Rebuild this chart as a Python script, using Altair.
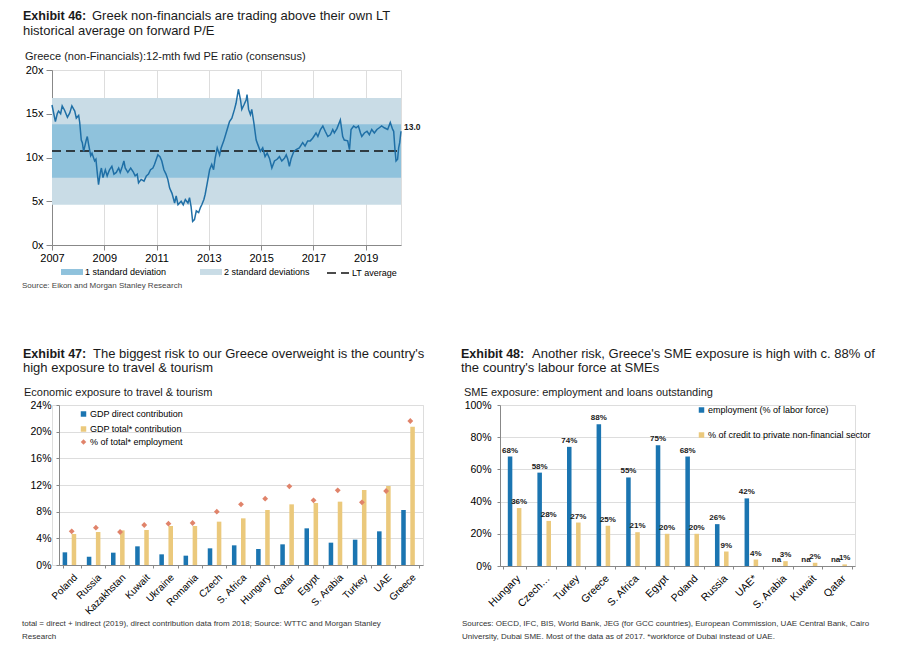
import altair as alt
import pandas as pd

FONT = "Liberation Sans"
INK = "#1a1a1a"

# ---------------- Exhibit 46 data ----------------
years46 = [2007.00, 2007.13, 2007.20, 2007.25, 2007.33, 2007.39, 2007.48, 2007.59, 2007.68, 2007.76,
           2007.87, 2007.93, 2008.02, 2008.06, 2008.12, 2008.16, 2008.21, 2008.31, 2008.35, 2008.40,
           2008.48, 2008.53, 2008.63, 2008.68, 2008.73, 2008.78, 2008.85, 2008.89, 2008.95, 2009.04,
           2009.11, 2009.20, 2009.29, 2009.37, 2009.46, 2009.55, 2009.61, 2009.69, 2009.75, 2009.80,
           2009.90, 2010.01, 2010.10, 2010.18, 2010.26, 2010.31, 2010.41, 2010.52, 2010.61, 2010.69,
           2010.77, 2010.86, 2010.92, 2011.05, 2011.13, 2011.20, 2011.28, 2011.36, 2011.43, 2011.50,
           2011.59, 2011.69, 2011.75, 2011.82, 2011.94, 2012.02, 2012.10, 2012.20, 2012.26, 2012.32,
           2012.38, 2012.45, 2012.52, 2012.61, 2012.68, 2012.73, 2012.81, 2012.86, 2012.94, 2013.03,
           2013.11, 2013.18, 2013.24, 2013.32, 2013.41, 2013.47, 2013.57, 2013.70, 2013.79, 2013.88,
           2013.98, 2014.04, 2014.13, 2014.21, 2014.26, 2014.34, 2014.43, 2014.46, 2014.52, 2014.59,
           2014.64, 2014.72, 2014.81, 2014.87, 2014.97, 2015.06, 2015.15, 2015.23, 2015.32, 2015.41,
           2015.51, 2015.61, 2015.70, 2015.79, 2015.89, 2015.96, 2016.02, 2016.08, 2016.15, 2016.25,
           2016.34, 2016.46, 2016.59, 2016.68, 2016.78, 2016.88, 2016.97, 2017.10, 2017.17, 2017.27,
           2017.36, 2017.45, 2017.55, 2017.65, 2017.74, 2017.80, 2017.90, 2018.03, 2018.12, 2018.18,
           2018.31, 2018.38, 2018.44, 2018.54, 2018.63, 2018.72, 2018.80, 2018.85, 2018.95, 2019.05,
           2019.14, 2019.23, 2019.33, 2019.43, 2019.52, 2019.61, 2019.71, 2019.84, 2019.94, 2020.03,
           2020.07, 2020.12, 2020.16, 2020.22, 2020.26, 2020.30, 2020.35]
pe46 = [16.0, 14.1, 15.0, 15.3, 15.0, 15.9, 15.4, 14.6, 15.1, 15.9,
        15.3, 14.5, 14.8, 14.0, 12.0, 11.7, 10.7, 12.0, 12.4, 11.5,
        10.2, 10.5, 9.6, 9.8, 8.3, 6.9, 8.3, 8.8, 7.7, 8.6,
        7.9, 8.6, 9.0, 8.1, 8.3, 8.8, 8.3, 9.0, 9.6, 8.8,
        8.3, 8.8, 8.4, 7.9, 8.1, 7.1, 7.5, 7.3, 7.9, 8.1,
        8.6, 8.8, 9.2, 10.3, 10.1, 9.6, 8.6, 8.1, 7.5, 6.5,
        5.9, 4.8, 5.6, 4.6, 5.0, 4.6, 5.2, 4.8, 5.4, 4.4,
        2.7, 2.9, 3.9, 3.7, 4.3, 4.6, 5.2, 5.8, 7.1, 8.6,
        9.2, 8.6, 9.9, 11.1, 10.3, 11.1, 11.9, 13.2, 14.1, 14.5,
        15.5, 16.2, 17.8, 16.6, 15.5, 16.0, 16.6, 17.2, 15.5, 14.9,
        15.5, 14.0, 12.0, 11.5, 10.7, 11.1, 10.1, 10.5, 9.9, 8.8,
        9.6, 9.8, 10.1, 9.6, 9.9, 10.3, 9.8, 9.0, 9.9, 10.7,
        10.9, 11.1, 11.7, 11.3, 11.9, 11.9, 12.2, 12.8, 12.4, 13.2,
        13.6, 13.0, 12.4, 12.6, 13.2, 12.8, 13.3, 14.3, 12.4, 12.0,
        11.9, 10.9, 13.2, 13.6, 13.4, 13.6, 12.8, 12.4, 12.8, 13.0,
        12.6, 13.2, 12.8, 13.2, 13.4, 13.6, 13.4, 13.2, 14.0, 13.2,
        13.0, 10.9, 9.6, 9.8, 11.1, 11.7, 13.0]
lt_avg46 = 10.75
band_names46 = ["2 standard deviations", "1 standard deviation"]
band_lo46 = [4.6, 7.7]
band_hi46 = [16.8, 13.8]
year_ticks46 = [2007, 2009, 2011, 2013, 2015, 2017, 2019]
pe_ticks46 = [0, 5, 10, 15, 20]

T46 = ["Exhibit 46:", "Greek non-financials are trading above their own LT",
       "historical average on forward P/E"]
SUB46 = "Greece (non-Financials):12-mth fwd PE ratio (consensus)"
SRC46 = "Source: Eikon and Morgan Stanley Research"

# ---------------- Exhibit 47 data ----------------
countries47 = ["Poland", "Russia", "Kazakhstan", "Kuwait", "Ukraine", "Romania", "Czech",
               "S. Africa", "Hungary", "Qatar", "Egypt", "S. Arabia", "Turkey", "UAE", "Greece"]
direct47 = [1.9, 1.25, 1.85, 2.8, 1.6, 1.4, 2.5, 2.95, 2.4, 3.1, 5.5, 3.35, 3.8, 5.05, 8.25]
total47 = [4.65, 4.95, 5.2, 5.25, 5.85, 5.85, 6.5, 7.0, 8.25, 9.1, 9.3, 9.5, 11.25, 11.85, 20.75]
employ47 = [5.05, 5.6, 4.95, 6.0, 6.2, 6.3, 8.0, 9.1, 9.95, 11.8, 9.7, 11.2, 9.4, 11.1, 21.6]
series47 = ["GDP direct contribution", "GDP total* contribution", "% of total* employment"]
ticks47 = [0, 4, 8, 12, 16, 20, 24]

T47 = ["Exhibit 47:", "The biggest risk to our Greece overweight is the country's",
       "high exposure to travel & tourism"]
SUB47 = "Economic exposure to travel & tourism"
FOOT47 = ["total = direct + indirect (2019), direct contribution data from 2018; Source: WTTC and Morgan Stanley",
          "Research"]

# ---------------- Exhibit 48 data ----------------
countries48 = ["Hungary", "Czech Republic", "Turkey", "Greece", "S. Africa", "Egypt", "Poland",
               "Russia", "UAE*", "S. Arabia", "Kuwait", "Qatar"]
employ48 = [68, 58, 74, 88, 55, 75, 68, 26, 42, None, None, None]
credit48 = [36, 28, 27, 25, 21, 20, 20, 9, 4, 3, 2, 1]
series48 = ["employment (% of labor force)", "% of credit to private non-financial sector"]
ticks48 = [0, 20, 40, 60, 80, 100]

T48 = ["Exhibit 48:", "Another risk, Greece's SME exposure is high with c. 88% of",
       "the country's labour force at SMEs"]
SUB48 = "SME exposure: employment and loans outstanding"
FOOT48 = ["Sources: OECD, IFC, BIS, World Bank, JEG (for GCC countries), European Commission, UAE Central Bank, Cairo",
          "University, Dubai SME. Most of the data as of 2017. *workforce of Dubai instead of UAE."]

BLUE = "#1b75b1"
YELLOW = "#ebc97c"
ORANGE = "#e0836a"
LINE = "#1f6fa6"
BAND1 = "#8fc2dc"
BAND2 = "#c9dce6"


def txt(s, x, y, size, weight="normal", color=INK):
    return alt.Chart(pd.DataFrame({"t": [s]})).mark_text(
        align="left", baseline="alphabetic", fontSize=size, fontWeight=weight,
        color=color, font=FONT
    ).encode(text="t:N", x=alt.value(x), y=alt.value(y))


def header(titles, sub, bx, rx, y1, y2, sx, sy):
    return [
        txt(titles[0], bx, y1, 12.5, "bold"),
        txt(titles[1], rx, y1, 13),
        txt(titles[2], bx, y2, 13),
        txt(sub, sx, sy, 11),
    ]


# ---------------- Chart 1 ----------------
df46 = pd.DataFrame({"year": years46, "pe": pe46})
x0, x1 = years46[0], years46[-1]
bands46 = pd.DataFrame({"band": band_names46, "lo": band_lo46, "hi": band_hi46,
                        "x0": [x0, x0], "x1": [x1, x1]})
avg46 = pd.DataFrame({"x0": [x0], "x1": [x1], "avg": [lt_avg46], "name": ["LT average"]})
end46 = pd.DataFrame({"year": [x1], "pe": [pe46[-1]], "lab": [f"{pe46[-1]:.1f}"]})

xs46 = alt.Scale(domain=[x0, x1], nice=False, zero=False)
ys46 = alt.Scale(domain=[0, 20], nice=False)
xax46 = alt.Axis(values=year_ticks46, format="d", title=None, labelFontSize=11,
                 tickSize=5, labelPadding=2, labelFlush=False, labelOverlap=False)
yax46 = alt.Axis(values=pe_ticks46, labelExpr="datum.value + 'x'", title=None,
                 labelFontSize=11, tickSize=6, labelPadding=3, labelOverlap=False)

bands_layer = alt.Chart(bands46).mark_rect().encode(
    x=alt.X("x0:Q", scale=xs46, axis=xax46, title=None),
    x2="x1:Q",
    y=alt.Y("lo:Q", scale=ys46, axis=yax46, title=None),
    y2="hi:Q",
    fill=alt.Fill("band:N",
                  scale=alt.Scale(domain=["1 standard deviation", "2 standard deviations"],
                                  range=[BAND1, BAND2]),
                  legend=alt.Legend(orient="none", legendX=9, legendY=191, direction="horizontal",
                                    title=None, symbolType="M-1,-0.27L1,-0.27L1,0.27L-1,0.27Z",
                                    symbolSize=484, symbolStrokeWidth=0, labelFontSize=9,
                                    labelOffset=2, columnPadding=33, labelFont=FONT)),
)
rule_layer = alt.Chart(avg46).mark_rule(strokeWidth=1.6, color="#111").encode(
    x=alt.X("x0:Q", axis=xax46, title=None),
    x2="x1:Q",
    y=alt.Y("avg:Q", axis=yax46, title=None),
    strokeDash=alt.StrokeDash("name:N", scale=alt.Scale(domain=["LT average"], range=[[9, 5]]),
                              legend=alt.Legend(orient="none", legendX=274, legendY=191,
                                                title=None, symbolType="stroke", symbolSize=484,
                                                symbolStrokeColor="#111", symbolStrokeWidth=1.6,
                                                labelFontSize=9, labelOffset=2, labelFont=FONT)),
)
line_layer = alt.Chart(df46).mark_line(color=LINE, strokeWidth=1.5).encode(
    x=alt.X("year:Q", axis=xax46, title=None), y=alt.Y("pe:Q", axis=yax46, title=None))
end_layer = alt.Chart(end46).mark_text(align="left", dx=3, dy=-4, fontSize=8.5, fontWeight="bold",
                                       color=INK, font=FONT).encode(
    x=alt.X("year:Q", axis=xax46, title=None), y=alt.Y("pe:Q", axis=yax46, title=None),
    text="lab:N")

chart1 = alt.layer(
    bands_layer, rule_layer, line_layer, end_layer,
    *header(T46, SUB46, -29, 40, -50, -35.5, -27, -10.5),
    txt(SRC46, -30, 218, 8, color="#444"),
).properties(width=349, height=175)

# ---------------- Chart 2 (view starts 7px left of its axis) ----------------
SHIFT = 7
long47 = pd.DataFrame({
    "country": countries47 * 2,
    "series": [series47[0]] * len(countries47) + [series47[1]] * len(countries47),
    "value": direct47 + total47,
})
emp47 = pd.DataFrame({"country": countries47, "value": employ47,
                      "series": [series47[2]] * len(countries47)})

xax47 = alt.Axis(labelAngle=-45, labelFontSize=10, ticks=True, tickBand="extent", tickSize=3,
                 labelPadding=4, title=None, labelOverlap=False)
yax47 = alt.Axis(values=ticks47, labelExpr="datum.value + '%'", labelFontSize=10.5,
                 tickSize=3, labelPadding=5, title=None, labelOverlap=False, offset=-SHIFT)
x47 = alt.X("country:N", sort=countries47, title=None,
            scale=alt.Scale(paddingInner=0.25, paddingOuter=0.15, range=[SHIFT, SHIFT + 364]),
            axis=xax47)
bars47 = alt.Chart(long47).mark_bar().encode(
    x=x47,
    xOffset=alt.XOffset("series:N", sort=series47[:2]),
    y=alt.Y("value:Q", title=None, scale=alt.Scale(domain=[0, 24], nice=False), axis=yax47),
    color=alt.Color("series:N", scale=alt.Scale(domain=series47[:2], range=[BLUE, YELLOW]),
                    legend=alt.Legend(orient="none", legendX=20 + SHIFT, legendY=4.5, title=None,
                                      symbolType="square", symbolSize=30, labelFontSize=9,
                                      rowPadding=5, labelOffset=2, labelFont=FONT)),
)
pts47 = alt.Chart(emp47).mark_point(filled=True, opacity=1, size=34, color=ORANGE).encode(
    x=x47,
    y=alt.Y("value:Q", title=None, axis=yax47),
    shape=alt.Shape("series:N", scale=alt.Scale(domain=[series47[2]], range=["diamond"]),
                    legend=alt.Legend(orient="none", legendX=20 + SHIFT, legendY=32.5,
                                      title=None, symbolSize=30, symbolFillColor=ORANGE,
                                      symbolStrokeColor=ORANGE, labelFontSize=9,
                                      labelOffset=2, labelFont=FONT)),
)
chart2 = alt.layer(
    bars47, pts47,
    *header(T47, SUB47, -36 + SHIFT, 34 + SHIFT, -47, -33, -35 + SHIFT, -9),
    txt(FOOT47[0], -37 + SHIFT, 221, 8, color="#333"),
    txt(FOOT47[1], -37 + SHIFT, 234, 8, color="#333"),
).properties(width=364 + SHIFT, height=160)

# ---------------- Chart 3 ----------------
rows48 = []
for c, e, k in zip(countries48, employ48, credit48):
    rows48.append({"country": c, "series": series48[0], "value": e,
                   "ly": e if e is not None else 0,
                   "lab": f"{e}%" if e is not None else "na"})
    rows48.append({"country": c, "series": series48[1], "value": k, "ly": k, "lab": f"{k}%"})
long48 = pd.DataFrame(rows48)

xax48 = alt.Axis(labelAngle=-45, labelFontSize=10.5, ticks=True, tickBand="extent", tickSize=3,
                 labelPadding=4, title=None, labelOverlap=False,
                 labelExpr="datum.label == 'Czech Republic' ? 'Czech\u2026' : datum.label")
yax48 = alt.Axis(values=ticks48, labelExpr="datum.value + '%'", labelFontSize=10.5,
                 tickSize=3, labelPadding=6, title=None, labelOverlap=False)
x48 = alt.X("country:N", sort=countries48, title=None,
            scale=alt.Scale(paddingInner=0.225, paddingOuter=0.11), axis=xax48)
xo48 = alt.XOffset("series:N", sort=series48)
bars48 = alt.Chart(long48).mark_bar().encode(
    x=x48, xOffset=xo48,
    y=alt.Y("value:Q", title=None, scale=alt.Scale(domain=[0, 100], nice=False), axis=yax48),
    color=alt.Color("series:N", scale=alt.Scale(domain=series48, range=[BLUE, YELLOW]),
                    legend=alt.Legend(orient="none", legendX=197, legendY=0.5, title=None,
                                      symbolType="square", symbolSize=30, labelFontSize=9,
                                      rowPadding=15, labelOffset=2, labelLimit=300,
                                      labelFont=FONT)),
)
labs48 = alt.Chart(long48).mark_text(baseline="bottom", dy=-2, fontSize=8, fontWeight="bold",
                                     color=INK, font=FONT).encode(
    x=x48, xOffset=xo48, y=alt.Y("ly:Q", title=None, axis=yax48), text="lab:N")
chart3 = alt.layer(
    bars48, labs48,
    *header(T48, SUB48, -39, 32, -47, -33, -36, -9),
    txt(FOOT48[0], -38, 221, 8, color="#333"),
    txt(FOOT48[1], -38, 234, 8, color="#333"),
).properties(width=355, height=161)


# ---------------- Layout (2-column grid) ----------------
def spacer(w, h):
    return alt.Chart(pd.DataFrame({"a": [0]})).mark_rect(opacity=0).encode(
        x=alt.value(0), y=alt.value(0), x2=alt.value(w), y2=alt.value(0)
    ).properties(width=w, height=h,
                 view=alt.ViewBackground(strokeOpacity=0, fillOpacity=0, strokeWidth=0))


chart = alt.concat(
    chart1, spacer(1, 175),
    chart2, chart3,
    columns=2, bounds="flush",
    spacing=alt.RowColnumber(row=160, column=77),
).resolve_scale(
    color="independent", fill="independent", shape="independent", strokeDash="independent",
    x="independent", y="independent",
).resolve_legend(
    color="independent", fill="independent", shape="independent", strokeDash="independent",
).properties(
    padding={"left": 13, "top": 1, "right": 5, "bottom": 5}
).configure_view(stroke=None).configure_axis(
    labelFont=FONT, labelColor="#222", domainColor="#333", tickColor="#333", grid=False
).configure_legend(labelFont=FONT, labelColor="#222").configure(background="white")

chart.save("out.html", embed_options={"renderer": "svg", "actions": False})
